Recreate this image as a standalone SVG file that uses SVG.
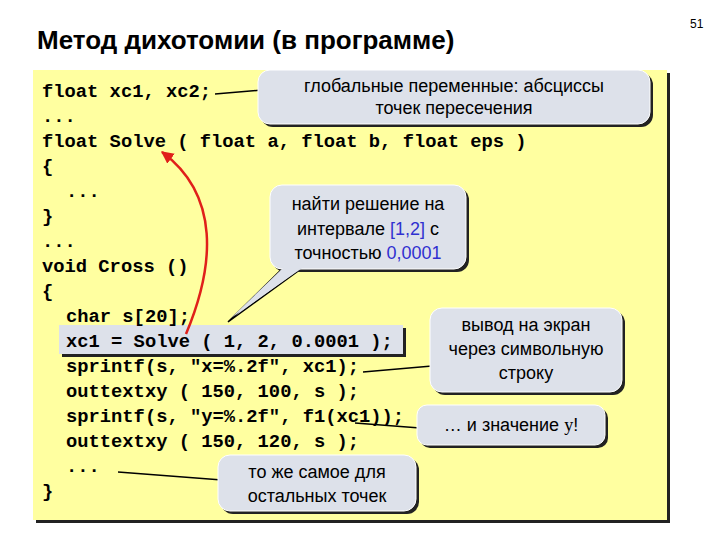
<svg xmlns="http://www.w3.org/2000/svg" width="720" height="540" viewBox="0 0 720 540">
<defs>
<marker id="ah" viewBox="0 0 10 10" refX="9" refY="5" markerWidth="5" markerHeight="5" orient="auto"><path d="M0,0L10,5L0,10z" fill="#e0201a"/></marker>
</defs>
<style>
.code{font-family:"Liberation Mono",monospace;font-weight:bold;font-size:18.8px;fill:#000}
.cl{font-family:"Liberation Sans",Arial,sans-serif;font-size:18px;fill:#000;text-anchor:middle}
.box{fill:#dde1ea;stroke:#fff;stroke-width:1}
.sh{fill:#222}
.tail{fill:#dde1ea;stroke:#000;stroke-width:1.5}
.b{fill:#3030d0}
</style>
<rect width="720" height="540" fill="#fff"/>
<text x="37" y="49" font-family="Liberation Sans,Arial,sans-serif" font-weight="bold" font-size="26" fill="#000">Метод дихотомии (в программе)</text>
<text x="690" y="28" font-family="Liberation Sans,Arial,sans-serif" font-size="12" fill="#000">51</text>
<rect x="36" y="73" width="634" height="450" fill="#222"/>
<rect x="33" y="70" width="634" height="450" fill="#ffffa0"/>
<g id="highlight"><rect x="62" y="328" width="344" height="29" class="sh"/><rect x="59" y="325" width="344" height="29" fill="#dde1ea"/></g>
<g class="code">
<text x="42" y="97">float xc1, xc2;</text>
<text x="42" y="122">...</text>
<text x="42" y="147">float Solve ( float a, float b, float eps )</text>
<text x="42" y="172">{</text>
<text x="66" y="197">...</text>
<text x="42" y="222">}</text>
<text x="42" y="247">...</text>
<text x="42" y="272">void Cross ()</text>
<text x="42" y="297">{</text>
<text x="66" y="322">char s[20];</text>
<text x="66" y="347">xc1 = Solve ( 1, 2, 0.0001 );</text>
<text x="66" y="372">sprintf(s, "x=%.2f", xc1);</text>
<text x="66" y="397">outtextxy ( 150, 100, s );</text>
<text x="66" y="422">sprintf(s, "y=%.2f", f1(xc1));</text>
<text x="66" y="447">outtextxy ( 150, 120, s );</text>
<text x="66" y="472">...</text>
<text x="42" y="497">}</text>
</g>
<g id="connectors">
<path d="M186,334 C 215,265 220,195 162,152" fill="none" stroke="#e0201a" stroke-width="2.5" marker-end="url(#ah)"/>
<line x1="215" y1="94" x2="262" y2="90" stroke="#000" stroke-width="1.5"/>
<polygon points="285,266 305,266 228,322" class="tail"/>
<line x1="363" y1="372" x2="432" y2="366" stroke="#000" stroke-width="1.5"/>
<line x1="355" y1="423" x2="420" y2="428" stroke="#000" stroke-width="1.5"/>
<line x1="118" y1="472" x2="222" y2="480" stroke="#000" stroke-width="1.5"/>
</g>
<g id="n1"><rect x="261" y="73" width="392" height="54" rx="12" class="sh"/><rect x="258" y="70" width="392" height="54" rx="12" class="box"/>
<text x="454" y="92" class="cl">глобальные переменные: абсциссы</text><text x="454" y="114" class="cl">точек пересечения</text></g>
<g id="n2"><rect x="273" y="188" width="196" height="84" rx="12" class="sh"/><rect x="270" y="185" width="196" height="84" rx="12" class="box"/>
<polygon points="285,266 305,266 231,318" fill="#dde1ea"/>
<text x="368" y="210" class="cl">найти решение на</text><text x="368" y="235" class="cl">интервале <tspan class="b">[1,2]</tspan> с</text><text x="368" y="259" class="cl">точностью <tspan class="b">0,0001</tspan></text></g>
<g id="n3"><rect x="433" y="311" width="192" height="84" rx="12" class="sh"/><rect x="430" y="308" width="192" height="84" rx="12" class="box"/>
<text x="526" y="331" class="cl">вывод на экран</text><text x="526" y="355" class="cl">через символьную</text><text x="526" y="379" class="cl">строку</text></g>
<g id="n4"><rect x="420" y="408" width="188" height="40" rx="10" class="sh"/><rect x="417" y="405" width="188" height="40" rx="10" class="box"/>
<text x="511" y="431" class="cl">… и значение <tspan font-family="Liberation Serif,serif">y</tspan>!</text></g>
<g id="n5"><rect x="221" y="458" width="198" height="56" rx="12" class="sh"/><rect x="218" y="455" width="198" height="56" rx="12" class="box"/>
<text x="317" y="478" class="cl">то же самое для</text><text x="317" y="502" class="cl">остальных точек</text></g>
</svg>
